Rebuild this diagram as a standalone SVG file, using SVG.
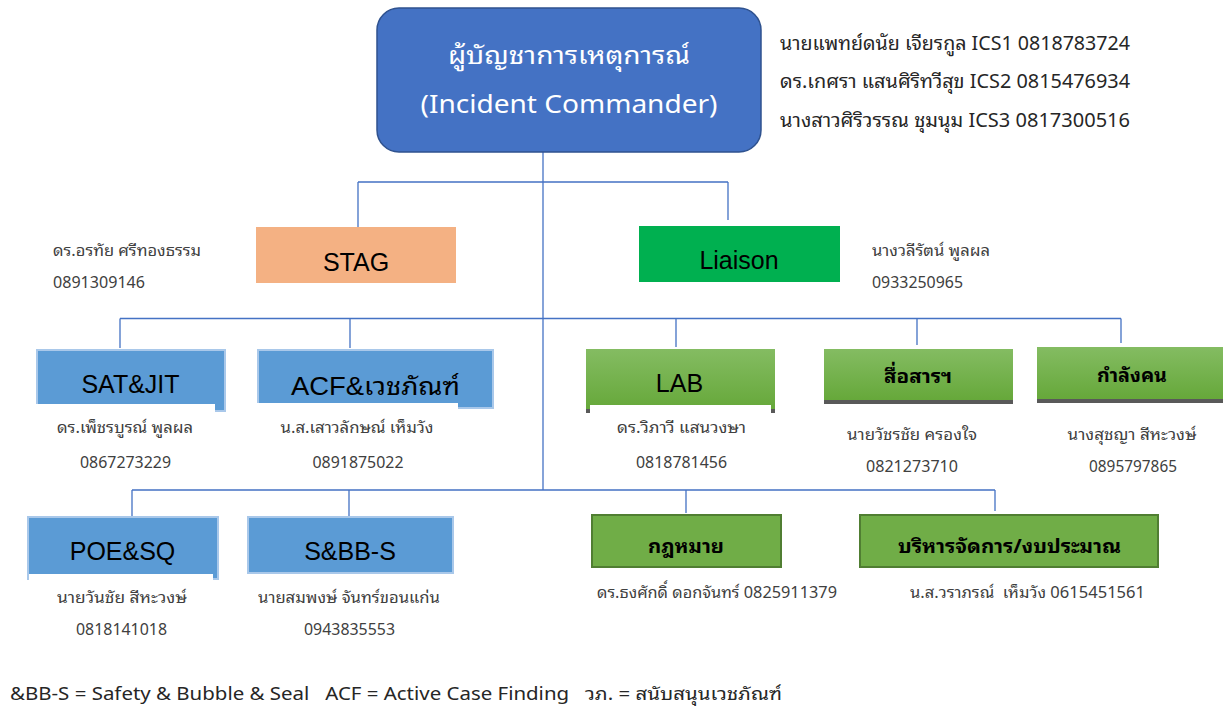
<svg xmlns="http://www.w3.org/2000/svg" width="1224" height="715" viewBox="0 0 1224 715">
  <style>
    .bg { fill: #ffffff; }
    .link { fill: none; stroke: #4472C4; stroke-width: 1.3; }
    .lbl { font-family: "Liberation Sans", Arial, "Noto Sans Thai Looped", "Noto Sans Thai", sans-serif; font-size: 25px; fill: #000000; text-anchor: middle; }
    .th-b { font-family: "Noto Sans Thai Looped", "Loma", "Noto Sans Thai", "Leelawadee UI", Tahoma, "Noto Sans", sans-serif; font-size: 19px; font-weight: bold; fill: #000000; text-anchor: middle; }
    .nm { font-family: "Noto Sans", "Noto Sans Thai Looped", "Loma", "Noto Sans Thai", "Open Sans", sans-serif; font-size: 16px; fill: #404040; }
    .nmc { text-anchor: middle; }
    .ics { font-family: "Noto Sans", "Noto Sans Thai Looped", "Loma", "Noto Sans Thai", "Open Sans", sans-serif; font-size: 20px; fill: #262626; }
    .head { font-family: "Noto Sans", "Noto Sans Thai Looped", "Loma", "Noto Sans Thai", "Open Sans", sans-serif; font-size: 25px; fill: #ffffff; text-anchor: middle; }
    .blue { fill: #5B9BD5; stroke: #A9C8EA; stroke-width: 2; }
    .green { fill: url(#greenGrad); }
    .shade { fill: #595959; }
    .olive { fill: #70AD47; stroke: #507E32; stroke-width: 2; }
    .mask { fill: #ffffff; }
    .foot { font-family: "Noto Sans", "Noto Sans Thai Looped", "Loma", "Noto Sans Thai", "Open Sans", sans-serif; font-size: 18px; fill: #262626; }
  </style>
  <defs>
    <linearGradient id="greenGrad" x1="0" y1="0" x2="0" y2="1">
      <stop offset="0" stop-color="#84BC62"/>
      <stop offset="1" stop-color="#66A83A"/>
    </linearGradient>
  </defs>

  <rect class="bg" x="0" y="0" width="1224" height="715"/>

  <!-- connectors -->
  <g id="connectors">
    <path class="link" d="M543,152 V490"/>
    <path class="link" d="M358,182 H728 M358,182 V227 M728,182 V220"/>
    <path class="link" d="M120,318.5 H1121 M120,318.5 V348 M350,318.5 V348 M676,318.5 V347 M917,318.5 V345 M1121,318.5 V343"/>
    <path class="link" d="M132,490 H995 M132,490 V516 M349,490 V516 M686,490 V513 M995,490 V511"/>
  </g>

  <!-- incident commander -->
  <g id="node-commander">
    <rect x="377" y="8" width="384" height="144" rx="22" fill="#4472C4" stroke="#2F528F" stroke-width="1.5"/>
    <text class="head" x="569" y="64" textLength="242" lengthAdjust="spacingAndGlyphs">ผู้บัญชาการเหตุการณ์</text>
    <text class="head" x="569" y="113" textLength="297" lengthAdjust="spacingAndGlyphs">(Incident Commander)</text>
  </g>
  <g id="commander-staff">
    <text class="ics" x="780" y="50" textLength="350" lengthAdjust="spacingAndGlyphs">นายแพทย์ดนัย เจียรกูล ICS1 0818783724</text>
    <text class="ics" x="780" y="88" textLength="350" lengthAdjust="spacingAndGlyphs">ดร.เกศรา แสนศิริทวีสุข ICS2 0815476934</text>
    <text class="ics" x="780" y="127" textLength="350" lengthAdjust="spacingAndGlyphs">นางสาวศิริวรรณ ชุมนุม ICS3 0817300516</text>
  </g>

  <!-- staff level -->
  <g id="node-stag">
    <rect x="256" y="227" width="200" height="56" fill="#F4B183"/>
    <text class="lbl" x="356" y="271">STAG</text>
    <text class="nm" x="53" y="256" textLength="148" lengthAdjust="spacingAndGlyphs">ดร.อรทัย ศรีทองธรรม</text>
    <text class="nm" x="53" y="288" textLength="92" lengthAdjust="spacingAndGlyphs">0891309146</text>
  </g>
  <g id="node-liaison">
    <rect x="639" y="226" width="201" height="56" fill="#00B050"/>
    <text class="lbl" x="739" y="269">Liaison</text>
    <text class="nm" x="872" y="256" textLength="118" lengthAdjust="spacingAndGlyphs">นางวลีรัตน์ พูลผล</text>
    <text class="nm" x="872" y="288" textLength="91" lengthAdjust="spacingAndGlyphs">0933250965</text>
  </g>

  <!-- section row -->
  <g id="node-satjit">
    <rect class="blue" x="37" y="350" width="188" height="61"/>
    <rect class="mask" x="36" y="404" width="179" height="12"/>
    <text class="lbl" x="130.5" y="393">SAT&amp;JIT</text>
    <text class="nm nmc" x="125" y="433" textLength="136" lengthAdjust="spacingAndGlyphs">ดร.เพ็ชรบูรณ์ พูลผล</text>
    <text class="nm nmc" x="125.5" y="468" textLength="91" lengthAdjust="spacingAndGlyphs">0867273229</text>
  </g>
  <g id="node-acf">
    <rect class="blue" x="258" y="350" width="235" height="58"/>
    <rect class="mask" x="257" y="403" width="201" height="13"/>
    <text class="lbl" x="375.5" y="395" textLength="169" lengthAdjust="spacingAndGlyphs">ACF&amp;เวชภัณฑ์</text>
    <text class="nm nmc" x="357" y="433" textLength="153" lengthAdjust="spacingAndGlyphs">น.ส.เสาวลักษณ์ เห็มวัง</text>
    <text class="nm nmc" x="358" y="468" textLength="91" lengthAdjust="spacingAndGlyphs">0891875022</text>
  </g>
  <g id="node-lab">
    <rect class="green" x="586" y="349" width="189" height="60"/>
    <rect class="shade" x="586" y="409" width="189" height="4"/>
    <rect class="mask" x="590" y="405" width="181" height="12"/>
    <text class="lbl" x="679.5" y="392">LAB</text>
    <text class="nm nmc" x="681.5" y="433" textLength="129" lengthAdjust="spacingAndGlyphs">ดร.วิภาวี แสนวงษา</text>
    <text class="nm nmc" x="681.5" y="468" textLength="91" lengthAdjust="spacingAndGlyphs">0818781456</text>
  </g>
  <g id="node-media">
    <rect class="green" x="824" y="349" width="189" height="51"/>
    <rect class="shade" x="824" y="400" width="189" height="4"/>
    <text class="th-b" x="918" y="383" textLength="68" lengthAdjust="spacingAndGlyphs">สื่อสารฯ</text>
    <text class="nm nmc" x="912" y="440" textLength="130" lengthAdjust="spacingAndGlyphs">นายวัชรชัย ครองใจ</text>
    <text class="nm nmc" x="912" y="472" textLength="92" lengthAdjust="spacingAndGlyphs">0821273710</text>
  </g>
  <g id="node-manpower">
    <rect class="green" x="1037" y="347" width="186" height="52"/>
    <rect class="shade" x="1037" y="399" width="186" height="4"/>
    <text class="th-b" x="1132" y="382" textLength="70" lengthAdjust="spacingAndGlyphs">กำลังคน</text>
    <text class="nm nmc" x="1132" y="440" textLength="129" lengthAdjust="spacingAndGlyphs">นางสุชญา สีหะวงษ์</text>
    <text class="nm nmc" x="1133" y="472" textLength="88" lengthAdjust="spacingAndGlyphs">0895797865</text>
  </g>

  <!-- lower row -->
  <g id="node-poe">
    <rect class="blue" x="28" y="517" width="190" height="62"/>
    <rect class="mask" x="29" y="574" width="184" height="10"/>
    <text class="lbl" x="122.5" y="560">POE&amp;SQ</text>
    <text class="nm nmc" x="122" y="603" textLength="130" lengthAdjust="spacingAndGlyphs">นายวันชัย สีหะวงษ์</text>
    <text class="nm nmc" x="121.5" y="635" textLength="91" lengthAdjust="spacingAndGlyphs">0818141018</text>
  </g>
  <g id="node-sbbs">
    <rect class="blue" x="248" y="517" width="205" height="56"/>
    <text class="lbl" x="350" y="560">S&amp;BB-S</text>
    <text class="nm nmc" x="349" y="603" textLength="182" lengthAdjust="spacingAndGlyphs">นายสมพงษ์ จันทร์ขอนแก่น</text>
    <text class="nm nmc" x="349.5" y="635" textLength="91" lengthAdjust="spacingAndGlyphs">0943835553</text>
  </g>
  <g id="node-legal">
    <rect class="olive" x="592" y="515" width="189" height="52"/>
    <text class="th-b" x="686" y="553" textLength="76" lengthAdjust="spacingAndGlyphs">กฎหมาย</text>
    <text class="nm" x="597" y="598" textLength="240" lengthAdjust="spacingAndGlyphs">ดร.ธงศักดิ์ ดอกจันทร์ 0825911379</text>
  </g>
  <g id="node-admin">
    <rect class="olive" x="860" y="515" width="298" height="52"/>
    <text class="th-b" x="1009.5" y="553" textLength="223" lengthAdjust="spacingAndGlyphs">บริหารจัดการ/งบประมาณ</text>
    <text class="nm" x="910" y="598" textLength="235" lengthAdjust="spacingAndGlyphs" xml:space="preserve">น.ส.วราภรณ์  เห็มวัง 0615451561</text>
  </g>

  <!-- legend -->
  <text class="foot" x="10" y="700" textLength="772" lengthAdjust="spacingAndGlyphs" xml:space="preserve">&amp;BB-S = Safety &amp; Bubble &amp; Seal   ACF = Active Case Finding   วภ. = สนับสนุนเวชภัณฑ์</text>
</svg>
